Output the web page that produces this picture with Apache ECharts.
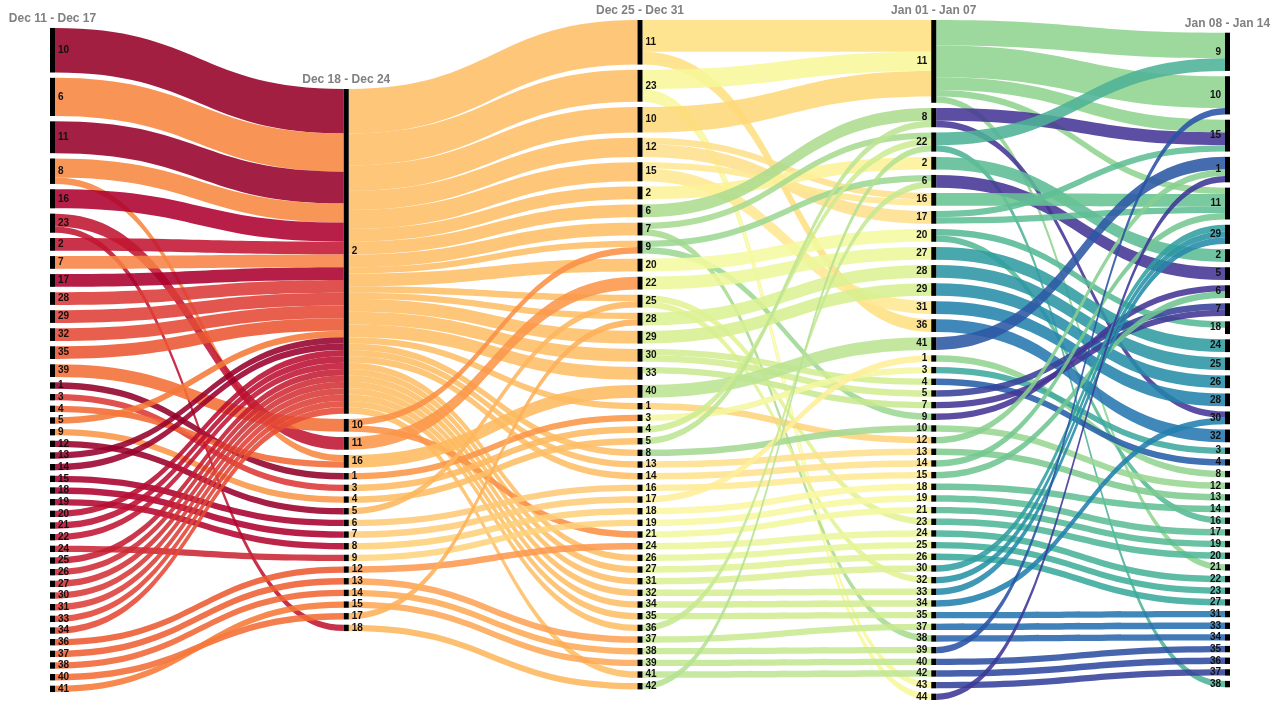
<!DOCTYPE html>
<html><head><meta charset="utf-8">
<script src="https://cdn.jsdelivr.net/npm/echarts@6/dist/echarts.min.js"></script>
<style>html,body{margin:0;padding:0;background:#fff}#chart{width:1280px;height:720px}</style>
</head><body><div id="chart"></div>
<script>
// ---------- DATA ----------
const weekLabels = ['Dec 11 - Dec 17','Dec 18 - Dec 24','Dec 25 - Dec 31','Jan 01 - Jan 07','Jan 08 - Jan 14'];

const week1Nodes = ['10','6','11','8','16','23','2','7','17','28','29','32','35','39','1','3','4','5','9','12','13','14','15','18','19','20','21','22','24','25','26','27','30','31','33','34','36','37','38','40','41'];
const week1Values = [7,6,5,4,3,3,2,2,2,2,2,2,2,2,1,1,1,1,1,1,1,1,1,1,1,1,1,1,1,1,1,1,1,1,1,1,1,1,1,1,1];

const week2Nodes = ['2','10','11','16','1','3','4','5','6','7','8','9','12','13','14','15','17','18'];
const week2Values = [51,2,2,2,1,1,1,1,1,1,1,1,1,1,1,1,1,1];

const week3Nodes = ['11','23','10','12','15','2','6','7','9','20','22','25','28','29','30','33','40','1','3','4','5','8','13','14','16','17','18','19','21','24','26','27','31','32','34','35','36','37','38','39','41','42'];
const week3Values = [7,5,4,3,3,2,2,2,2,2,2,2,2,2,2,2,2,1,1,1,1,1,1,1,1,1,1,1,1,1,1,1,1,1,1,1,1,1,1,1,1,1];

const week4Nodes = ['11','8','22','2','6','16','17','20','27','28','29','31','36','41','1','3','4','5','7','9','10','12','13','14','15','18','19','21','23','24','25','26','30','32','33','34','35','37','38','39','40','42','43','44'];
const week4Values = [13,3,3,2,2,2,2,2,2,2,2,2,2,2,1,1,1,1,1,1,1,1,1,1,1,1,1,1,1,1,1,1,1,1,1,1,1,1,1,1,1,1,1,1];

const week5Nodes = ['9','10','15','1','11','29','2','5','6','7','18','24','25','26','28','30','32','3','4','8','12','13','14','16','17','19','20','21','22','23','27','31','33','34','35','36','37','38'];
const week5Values = [6,6,5,4,5,3,2,2,2,2,2,2,2,2,2,2,2,1,1,1,1,1,1,1,1,1,1,1,1,1,1,1,1,1,1,1,1,1];

// [source in week N, target in week N+1, value]
const links12 = [
 ['10','2',7],['6','2',6],['11','2',5],['8','2',3],['8','16',1],['16','2',3],['23','11',2],['23','18',1],
 ['2','2',2],['7','2',2],['17','2',2],['28','2',2],['29','2',2],['32','2',2],['35','2',2],['39','10',2],
 ['1','1',1],['3','3',1],['4','16',1],['5','2',1],['9','4',1],['12','5',1],['13','2',1],['14','2',1],
 ['15','6',1],['18','7',1],['19','8',1],['20','2',1],['21','2',1],['22','2',1],['24','9',1],['25','2',1],
 ['26','2',1],['27','2',1],['30','2',1],['31','2',1],['33','2',1],['34','2',1],['36','12',1],['37','13',1],
 ['38','14',1],['40','17',1],['41','15',1]
];
const links23 = [
 ['2','11',7],['2','23',5],['2','10',4],['2','12',3],['2','15',3],['2','2',2],['2','6',2],['2','7',2],
 ['2','9',1],['2','20',2],['2','25',1],['2','28',1],['2','29',2],['2','30',2],['2','33',2],['2','1',1],
 ['2','8',1],['2','13',1],['2','14',1],['2','26',1],['2','27',1],['2','31',1],['2','32',1],['2','34',1],
 ['2','35',1],['2','36',1],['2','41',1],
 ['10','9',1],['10','21',1],['11','22',2],['16','40',2],['1','3',1],['3','4',1],['4','5',1],['5','25',1],
 ['6','16',1],['7','17',1],['8','18',1],['9','19',1],['12','24',1],['13','37',1],['14','38',1],['15','39',1],
 ['17','28',1],['18','42',1]
];
const links34 = [
 ['11','11',5],['11','36',2],['23','11',3],['23','43',1],['23','44',1],['10','11',4],['12','16',1],['12','17',2],
 ['15','31',2],['15','16',1],['2','2',2],['6','8',2],['7','22',1],['7','38',1],['9','6',1],['9','9',1],
 ['20','20',2],['22','27',2],['25','23',1],['25','32',1],['28','28',2],['29','29',2],['30','4',1],['30','5',1],
 ['33','7',1],['40','41',2],
 ['1','12',1],['3','3',1],['4','22',1],['5','8',1],['8','10',1],['13','13',1],['14','14',1],['16','15',1],
 ['17','1',1],['18','18',1],['19','19',1],['21','21',1],['24','24',1],['26','25',1],['27','26',1],['31','30',1],
 ['32','33',1],['34','34',1],['35','35',1],['36','6',1],['37','37',1],['38','39',1],['39','40',1],['41','42',1],
 ['42','22',1]
];
const links45 = [
 ['11','9',4],['11','10',5],['11','15',2],['11','11',1],['11','21',1],['8','15',2],['8','30',1],['22','9',2],['22','38',1],
 ['2','2',2],['6','5',2],['16','11',2],['17','11',1],['17','15',1],['20','18',1],['20','16',1],['27','24',2],
 ['28','25',2],['29','26',2],['31','28',2],['36','32',2],['41','1',2],
 ['1','8',1],['3','3',1],['4','4',1],['5','7',1],['7','7',1],['9','6',1],['10','12',1],['12','1',1],
 ['13','13',1],['14','11',1],['15','6',1],['18','14',1],['19','17',1],['21','19',1],['23','20',1],['24','22',1],
 ['25','23',1],['26','27',1],['30','29',1],['32','29',1],['33','29',1],['34','30',1],['35','31',1],['37','33',1],
 ['38','34',1],['39','10',1],['40','35',1],['42','36',1],['43','37',1],['44','1',1]
];

// ---------- STYLE ----------
const LEFT = 50, RIGHT = 50, TOP = 20, BOTTOM = 20, GAP = 5.3, NODE_W = 5, ALPHA = 0.88;
const colorsW1 = {'10':'#a20442','6':'#f89455','11':'#a30943','8':'#f89657','16':'#b81e48','23':'#c7304a','2':'#c8324a','7':'#f8915a','17':'#b51b47','28':'#e0524f','29':'#e2564f','32':'#e8604c','35':'#ed6b4a','39':'#f47f4e','1':'#9e0142','3':'#e0504e','4':'#f47b4d','5':'#f6894f','9':'#faa35e','12':'#a50b44','13':'#a30a44','14':'#a70f45','15':'#b31946','18':'#b81f48','19':'#bd2449','20':'#c12a4a','21':'#c32d4b','22':'#c8324c','24':'#d0404c','25':'#cb374b','26':'#d4444d','27':'#d84a4e','30':'#dd514f','31':'#e15650','33':'#e55c4e','34':'#e8604c','36':'#ee6e4a','37':'#f0734b','38':'#f2784c','40':'#f57e4e','41':'#f7894f'};
const colorsW2 = {'2':'#fdc679','10':'#fb9e5b','11':'#fba35f','16':'#fdc171','1':'#fba25d','3':'#fdc274','4':'#fdc677','5':'#fdbf70','6':'#fed086','7':'#fed289','8':'#fed68a','9':'#fed88c','12':'#fca563','13':'#fcae69','14':'#fdb56b','15':'#fdb36b','17':'#fdba6d','18':'#fdc070'};
const colorsW3 = {'11':'#fee491','23':'#f8f8a6','10':'#fedd8a','12':'#fee49a','15':'#feeba0','2':'#fdf3a5','6':'#b6e09b','7':'#b3df9e','9':'#a9dca0','20':'#f5faab','22':'#eef8a7','25':'#e6f4a2','28':'#e0f3a0','29':'#dbf19e','30':'#d7ef9e','33':'#cfeb9e','40':'#c3e79f','1':'#fed98b','3':'#f5f8ac','4':'#d3ee9e','5':'#c5e8a0','8':'#aedd9f','13':'#fee49a','14':'#fee59b','16':'#feeca1','17':'#fef0a5','18':'#fbf8ad','19':'#f8f9ad','21':'#f4f9aa','24':'#eef7a8','26':'#e9f6a6','27':'#e5f4a3','31':'#e0f2a1','32':'#dcf1a0','34':'#d8efa0','35':'#d5ee9f','36':'#cdeb9f','37':'#d0ec9f','38':'#cdeb9f','39':'#c9ea9e','41':'#c6e8a0','42':'#bde59e'};
const colorsW4 = {'11':'#9dd89d','8':'#5b4ea2','22':'#62bba3','2':'#70c4a2','6':'#5a4ea2','16':'#7acaa0','17':'#72c6a2','20':'#6bc2a3','27':'#48a8ab','28':'#45a2ae','29':'#409bb2','31':'#3d92b6','36':'#3f86ba','41':'#456cb0','1':'#a0d99e','3':'#55b2a9','4':'#4070b2','5':'#5058a6','7':'#594ea2','9':'#5a4ea2','10':'#a6db9f','12':'#96d59d','13':'#8ed19d','14':'#85ce9e','15':'#80cc9f','18':'#75c7a2','19':'#70c5a2','21':'#69c2a3','23':'#64bfa4','24':'#5ebca5','25':'#58b8a6','26':'#52b3a8','30':'#4aaaac','32':'#40a0b0','33':'#3e98b4','34':'#3c90b7','35':'#3e88b9','37':'#4080b9','38':'#4278b6','39':'#4368b0','40':'#4565ad','42':'#4860ab','43':'#4c59a7','44':'#544fa3'};

// ---------- BUILD ----------
const weekNodes = [week1Nodes, week2Nodes, week3Nodes, week4Nodes, week5Nodes];
const weekValues = [week1Values, week2Values, week3Values, week4Values, week5Values];
const weekLinks = [links12, links23, links34, links45];
const weekColors = [colorsW1, colorsW2, colorsW3, colorsW4];

function solid(hex, a) {
  const n = parseInt(hex.slice(1), 16);
  const f = c => Math.max(0, Math.min(255, Math.round((c - 255 * (1 - a)) / a)));
  return 'rgb(' + f(n >> 16) + ',' + f((n >> 8) & 255) + ',' + f(n & 255) + ')';
}

const H = 720 - TOP - BOTTOM;
const nodeVal = weekNodes.map((names, w) => names.map((nm, i) => {
  let vin = 0, vout = 0;
  if (w > 0) weekLinks[w - 1].forEach(l => { if (l[1] === nm) vin += l[2]; });
  if (w < weekLinks.length) weekLinks[w].forEach(l => { if (l[0] === nm) vout += l[2]; });
  return Math.max(weekValues[w][i], vin, vout);
}));
const sums = nodeVal.map(a => a.reduce((s, v) => s + v, 0));
const ky = Math.min(...weekNodes.map((a, w) => (H - (a.length - 1) * GAP) / sums[w]));

const data = [];
const firstIdx = [];
weekNodes.forEach((names, w) => {
  const extent = sums[w] * ky + (names.length - 1) * GAP;
  const pad = ((H - extent) / 2 - GAP) / ky;
  if (pad > 0.05) {
    data.push({ name: 'pad' + w, value: pad, depth: w,
      itemStyle: { color: 'rgba(0,0,0,0)', borderWidth: 0 }, label: { show: false } });
  }
  firstIdx.push(data.length);
  names.forEach((nm, i) => data.push({
    name: w + ':' + nm, value: weekValues[w][i], depth: w,
    label: { position: w >= 3 ? 'left' : 'right', distance: w >= 3 ? 4 : 3 }
  }));
});

const links = [];
weekLinks.forEach((arr, w) => arr.forEach(([s, t, v]) => {
  const c = (weekColors[w][s]) || '#cccccc';
  links.push({ source: w + ':' + s, target: (w + 1) + ':' + t, value: v,
    lineStyle: { color: solid(c, ALPHA), opacity: ALPHA } });
}));

const chart = echarts.init(document.getElementById('chart'));
chart.setOption({
  animation: false,
  backgroundColor: '#fff',
  tooltip: { show: false },
  series: [{
    type: 'sankey',
    left: LEFT, right: RIGHT, top: TOP, bottom: BOTTOM,
    nodeWidth: NODE_W, nodeGap: GAP, layoutIterations: 0, nodeAlign: 'left',
    draggable: false,
    emphasis: { disabled: true },
    itemStyle: { color: '#000', borderWidth: 0 },
    lineStyle: { curveness: 0.5 },
    label: {
      show: true, color: '#111', fontSize: 10, fontWeight: 'bold',
      fontFamily: '"Liberation Sans", Arial, sans-serif',
      formatter: p => p.name.split(':')[1]
    },
    data: data,
    links: links
  }]
});

// column titles placed from the computed layout
const sData = chart.getModel().getSeriesByIndex(0).getData();
const ctx = document.createElement('canvas').getContext('2d');
const TITLE_FONT = 'bold 12px "Liberation Sans", Arial, sans-serif';
ctx.font = TITLE_FONT;
const graphics = weekLabels.map((txt, w) => {
  const lay = sData.getItemLayout(firstIdx[w]);
  const half = ctx.measureText(txt).width / 2;
  let x = LEFT + lay.x + lay.dx / 2;
  x = Math.max(half + 8, Math.min(1280 - half - 8, x));
  return { type: 'text', x: x, y: TOP + lay.y - 9, silent: true,
    style: { text: txt, font: TITLE_FONT, fill: '#808080',
      textAlign: 'center', textVerticalAlign: 'middle', align: 'center', verticalAlign: 'middle' } };
});
chart.setOption({ graphic: graphics });
</script>
</body></html>
